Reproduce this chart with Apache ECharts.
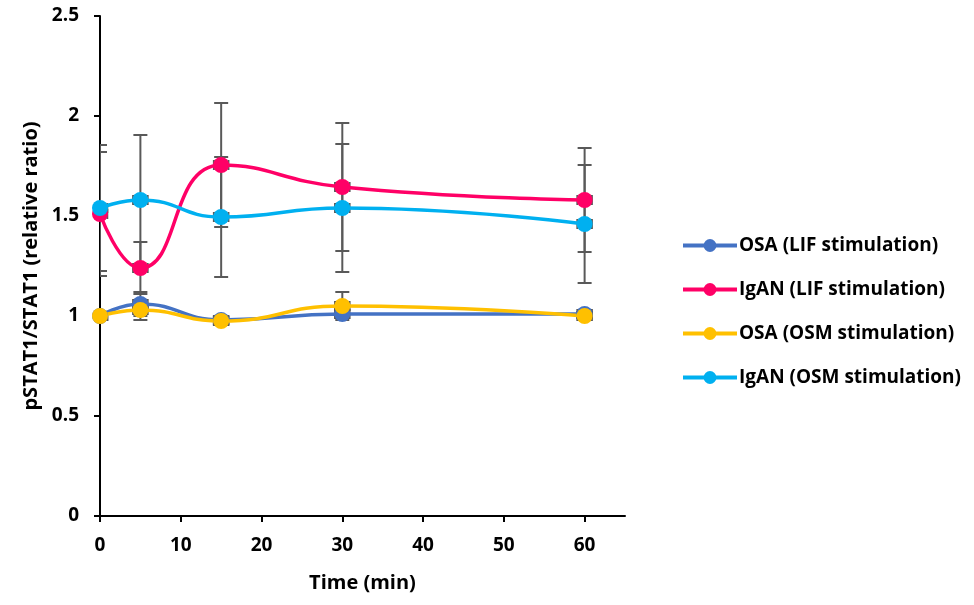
<!DOCTYPE html>
<html>
<head>
<meta charset="utf-8">
<script src="https://cdn.jsdelivr.net/npm/echarts@6/dist/echarts.min.js"></script>
<style>
html,body{margin:0;padding:0;background:#fff;}
#c{width:974px;height:605px;}
</style>
</head>
<body>
<div id="c"></div>
<script>
// ---- data ----
const times = [0, 5, 15, 30, 60];
const seriesNames = ['OSA (LIF stimulation)', 'IgAN (LIF stimulation)', 'OSA (OSM stimulation)', 'IgAN (OSM stimulation)'];
const osaLif = [1.00, 1.06, 0.98, 1.01, 1.01];
const iganLif = [1.51, 1.24, 1.755, 1.645, 1.58];
const osaOsm = [1.00, 1.03, 0.975, 1.05, 1.00];
const iganOsm = [1.54, 1.58, 1.495, 1.54, 1.46];
const osaLifErr = [0, 0.06, 0.02, 0.02, 0.02];
const iganLifErr = [0.31, 0.13, 0.31, 0.32, 0.26];
const osaOsmErr = [0, 0.05, 0.02, 0.07, 0.02];
const iganOsmErr = [0.315, 0.325, 0.30, 0.32, 0.295];
const xErr = [0.9, 0.9, 0.9, 0.9, 0.9];
const yTicks = [0, 0.5, 1, 1.5, 2, 2.5];
const xTicks = [0, 10, 20, 30, 40, 50, 60];
const colors = ['#4472C4', '#FF0066', '#FFC000', '#00B0F0'];

const values = [osaLif, iganLif, osaOsm, iganOsm];
const errs = [osaLifErr, iganLifErr, osaOsmErr, iganOsmErr];

const FONT = '"Open Sans", "Liberation Sans", sans-serif';

function renderErr(params, api) {
  const x = api.value(0), y = api.value(1), e = api.value(2), xe = api.value(3);
  const style = { stroke: '#595959', lineWidth: 2 };
  const children = [];
  const hw = 7;
  if (e > 0) {
    const t = api.coord([x, y + e]);
    const b = api.coord([x, y - e]);
    children.push({ type: 'line', shape: { x1: t[0], y1: t[1], x2: b[0], y2: b[1] }, style });
    children.push({ type: 'line', shape: { x1: t[0] - hw, y1: t[1], x2: t[0] + hw, y2: t[1] }, style });
    children.push({ type: 'line', shape: { x1: b[0] - hw, y1: b[1], x2: b[0] + hw, y2: b[1] }, style });
  }
  if (xe > 0) {
    const l = api.coord([x - xe, y]);
    const r = api.coord([x + xe, y]);
    children.push({ type: 'line', shape: { x1: l[0], y1: l[1] - 5, x2: l[0], y2: l[1] + 5 }, style });
    children.push({ type: 'line', shape: { x1: r[0], y1: r[1] - 5, x2: r[0], y2: r[1] + 5 }, style });
  }
  return { type: 'group', children };
}

const series = [];
values.forEach((vals, i) => {
  series.push({
    type: 'custom',
    name: seriesNames[i] + ' err',
    renderItem: renderErr,
    clip: true,
    z: 1,
    silent: true,
    data: times.map((t, k) => [t, vals[k], errs[i][k], xErr[k]]),
    encode: { x: 0, y: 1 }
  });
});
values.forEach((vals, i) => {
  series.push({
    type: 'line',
    name: seriesNames[i],
    smooth: 0.5,
    symbol: 'circle',
    symbolSize: 16,
    showSymbol: true,
    z: 3,
    itemStyle: { color: colors[i] },
    lineStyle: { color: colors[i], width: 3.5 },
    data: times.map((t, k) => [t, vals[k]])
  });
});

const chart = echarts.init(document.getElementById('c'), null, { renderer: 'canvas' });
chart.setOption({
  animation: false,
  backgroundColor: '#ffffff',
  grid: { left: 100, right: 349, top: 16, bottom: 89, containLabel: false },
  legend: {
    data: seriesNames,
    orient: 'vertical',
    left: 676,
    top: 231,
    itemWidth: 54,
    itemHeight: 16,
    itemGap: 25,
    lineStyle: { width: 4 },
    textStyle: { fontFamily: FONT, fontWeight: 'bold', fontSize: 19, color: '#000', padding: [0, 0, 0, -3] }
  },
  xAxis: {
    type: 'value',
    min: 0,
    max: 65,
    interval: 10,
    name: 'Time (min)',
    nameLocation: 'middle',
    nameGap: 57,
    nameTextStyle: { fontFamily: FONT, fontWeight: 'bold', fontSize: 20, color: '#000' },
    axisLine: { show: true, onZero: false, lineStyle: { color: '#000', width: 2 } },
    axisTick: { show: true, length: 6, customValues: xTicks, lineStyle: { color: '#000', width: 2 } },
    axisLabel: { customValues: xTicks, fontFamily: FONT, fontWeight: 'bold', fontSize: 19, color: '#000', margin: 20 },
    splitLine: { show: false }
  },
  yAxis: {
    type: 'value',
    min: 0,
    max: 2.5,
    interval: 0.5,
    name: 'pSTAT1/STAT1 (relative ratio)',
    nameLocation: 'middle',
    nameRotate: 90,
    nameGap: 52,
    nameTextStyle: { fontFamily: FONT, fontWeight: 'bold', fontSize: 20, color: '#000' },
    axisLine: { show: true, onZero: false, lineStyle: { color: '#000', width: 2 } },
    axisTick: { show: true, length: 6, customValues: yTicks, lineStyle: { color: '#000', width: 2 } },
    axisLabel: { customValues: yTicks, fontFamily: FONT, fontWeight: 'bold', fontSize: 19, color: '#000', margin: 21 },
    splitLine: { show: false }
  },
  series
});
</script>
</body>
</html>
